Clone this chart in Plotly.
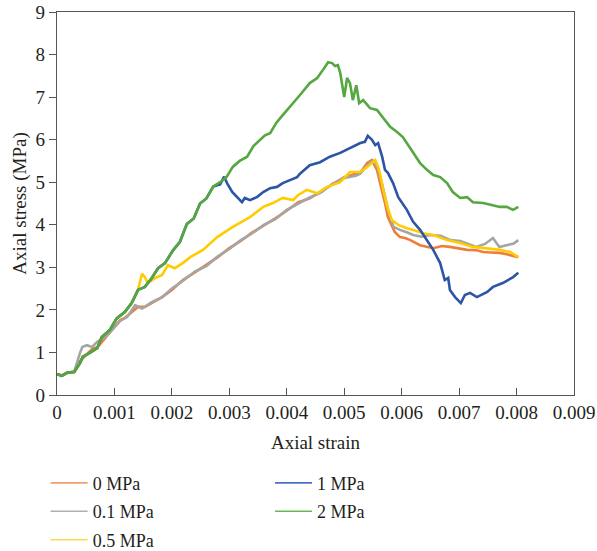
import plotly.graph_objects as go

# ---------------- data ----------------
x_0 = [0, 0.0001, 0.0002, 0.0003, 0.0004, 0.00054, 0.00061, 0.00071, 0.00084, 0.00096, 0.0011, 0.00118,
       0.0013, 0.00141, 0.00153, 0.00165, 0.00183, 0.002, 0.00219, 0.0024, 0.0026, 0.0028, 0.003, 0.0032,
       0.0034, 0.0036, 0.0038, 0.004, 0.0042, 0.0044, 0.0046, 0.0048, 0.005, 0.0052, 0.00528, 0.0054,
       0.00548, 0.00557, 0.00566, 0.00571, 0.00576, 0.00583, 0.00588, 0.00597, 0.00606, 0.00615, 0.00632,
       0.00655, 0.0067, 0.00684, 0.007, 0.00714, 0.0073, 0.00742, 0.00755, 0.00771, 0.00785, 0.00803]
y_0 = [0.49, 0.46, 0.53, 0.55, 0.8, 0.99, 1.08, 1.13, 1.34, 1.53, 1.76, 1.81,
       1.95, 2.07, 2.07, 2.16, 2.3, 2.47, 2.7, 2.88, 3.05, 3.24, 3.45, 3.62,
       3.82, 3.98, 4.15, 4.33, 4.53, 4.62, 4.78, 4.95, 5.12, 5.2, 5.22, 5.45,
       5.52, 5.29, 4.82, 4.51, 4.18, 3.99, 3.83, 3.71, 3.69, 3.64, 3.52,
       3.45, 3.5, 3.48, 3.44, 3.41, 3.4, 3.36, 3.35, 3.34, 3.3, 3.24]

x_01 = [0, 0.0001, 0.0002, 0.0003, 0.0004, 0.00044, 0.00052, 0.00061, 0.0007, 0.00084, 0.00096, 0.0011,
        0.00122, 0.00136, 0.00148, 0.00165, 0.00183, 0.002, 0.00219, 0.0024, 0.0026, 0.0028, 0.003, 0.0032,
        0.0034, 0.0036, 0.0038, 0.004, 0.0042, 0.0044, 0.0046, 0.0048, 0.005, 0.0052, 0.00528, 0.0054,
        0.0055, 0.00558, 0.00566, 0.00572, 0.00578, 0.00586, 0.00597, 0.0061, 0.0062, 0.00635, 0.0065,
        0.00668, 0.00685, 0.00702, 0.00718, 0.0073, 0.00745, 0.00759, 0.0077, 0.00783, 0.00795, 0.00803]
y_01 = [0.49, 0.46, 0.53, 0.55, 0.99, 1.13, 1.17, 1.13, 1.25, 1.36, 1.53, 1.74,
        1.83, 2.11, 2.03, 2.18, 2.3, 2.5, 2.68, 2.9, 3.03, 3.26, 3.43, 3.64,
        3.8, 4.0, 4.13, 4.35, 4.5, 4.64, 4.76, 4.97, 5.1, 5.15, 5.2, 5.4,
        5.5, 5.35, 4.95, 4.6, 4.25, 3.95, 3.88, 3.82, 3.76, 3.72, 3.76,
        3.74, 3.64, 3.62, 3.55, 3.48, 3.55, 3.69, 3.48, 3.52, 3.56, 3.64]

x_05 = [0, 0.00008, 0.00018, 0.0003, 0.0004, 0.00045, 0.00057, 0.0007, 0.00078, 0.00092, 0.00104,
        0.00118, 0.0013, 0.00141, 0.00148, 0.00153, 0.00158, 0.00171, 0.00183, 0.00193, 0.00205, 0.00219,
        0.00232, 0.00254, 0.00279, 0.00306, 0.00336, 0.00359, 0.00376, 0.00393, 0.00411, 0.0042, 0.00435,
        0.00453, 0.0047, 0.00493, 0.0051, 0.00528, 0.0054, 0.00548, 0.00554, 0.00559, 0.00562, 0.00568,
        0.00575, 0.00583, 0.00595, 0.00609, 0.0062, 0.00637, 0.00655, 0.00679, 0.00702, 0.00724, 0.00749,
        0.00771, 0.00789, 0.00803]
y_05 = [0.49, 0.45, 0.53, 0.54, 0.75, 0.9, 0.99, 1.1, 1.36, 1.53, 1.8,
        1.95, 2.16, 2.47, 2.85, 2.77, 2.63, 2.75, 2.82, 3.05, 2.98, 3.1,
        3.24, 3.41, 3.71, 3.95, 4.18, 4.42, 4.51, 4.63, 4.58, 4.7, 4.82,
        4.74, 4.89, 5.0, 5.24, 5.24, 5.36, 5.45, 5.52, 5.36, 5.22, 4.82,
        4.42, 4.11, 3.99, 3.92, 3.88, 3.8, 3.76, 3.64, 3.57, 3.48, 3.45,
        3.41, 3.36, 3.24]

x_1 = [0, 0.00008, 0.00018, 0.0003, 0.0004, 0.00045, 0.00057, 0.0007, 0.00078, 0.00092, 0.00104, 0.00118,
       0.0013, 0.00141, 0.00153, 0.00165, 0.00176, 0.00188, 0.00202, 0.00214, 0.00226, 0.00238, 0.00249,
       0.0026, 0.00272, 0.00284, 0.00291, 0.00296, 0.00305, 0.00313, 0.00322, 0.00327, 0.00336, 0.00348,
       0.00359, 0.00371, 0.00383, 0.00393, 0.00406, 0.00418, 0.00423, 0.0044, 0.00458, 0.00475, 0.00493,
       0.0051, 0.00528, 0.00536, 0.00541, 0.00548, 0.00554, 0.00559, 0.00566, 0.00571, 0.00576, 0.00585,
       0.00594, 0.00609, 0.0062, 0.00632, 0.00644, 0.00655, 0.00667, 0.00675, 0.00681, 0.00684, 0.00693,
       0.00703, 0.0071, 0.00719, 0.00731, 0.00749, 0.00759, 0.00776, 0.00794, 0.00803]
y_1 = [0.49, 0.45, 0.53, 0.54, 0.75, 0.9, 0.99, 1.1, 1.36, 1.53, 1.8, 1.95,
       2.16, 2.47, 2.54, 2.75, 2.98, 3.1, 3.4, 3.6, 4.02, 4.15, 4.5,
       4.62, 4.9, 4.95, 5.13, 4.98, 4.77, 4.65, 4.53, 4.63, 4.58, 4.65,
       4.77, 4.86, 4.89, 4.98, 5.05, 5.12, 5.2, 5.4, 5.47, 5.6, 5.69,
       5.8, 5.92, 5.95, 6.09, 6.0, 5.87, 5.92, 5.6, 5.29, 5.22, 4.98,
       4.65, 4.35, 4.07, 3.88, 3.64, 3.41, 3.1, 2.7, 2.75, 2.47, 2.3,
       2.16, 2.35, 2.4, 2.3, 2.42, 2.54, 2.63, 2.77, 2.87]

x_2 = [0, 0.00008, 0.00018, 0.0003, 0.0004, 0.00045, 0.00057, 0.0007, 0.00078, 0.00092, 0.00104, 0.00118,
       0.0013, 0.00141, 0.00153, 0.00165, 0.00176, 0.00188, 0.00202, 0.00214, 0.00226, 0.00238, 0.00249,
       0.0026, 0.00272, 0.00284, 0.00295, 0.00306, 0.00318, 0.00331, 0.00342, 0.00353, 0.00362, 0.00371,
       0.00382, 0.0039, 0.00406, 0.00423, 0.0044, 0.00453, 0.00463, 0.00472, 0.00479, 0.00484, 0.00489,
       0.00493, 0.005, 0.00505, 0.0051, 0.00515, 0.00521, 0.00526, 0.00533, 0.00538, 0.00545, 0.00557,
       0.00568, 0.0058, 0.00592, 0.00602, 0.00615, 0.00632, 0.00644, 0.00655, 0.00667, 0.00679, 0.00689,
       0.00702, 0.00714, 0.00724, 0.00742, 0.00759, 0.00771, 0.00783, 0.00794, 0.00803]
y_2 = [0.49, 0.45, 0.53, 0.54, 0.75, 0.9, 0.99, 1.1, 1.36, 1.53, 1.8, 1.95,
       2.16, 2.47, 2.54, 2.75, 2.98, 3.1, 3.4, 3.6, 4.02, 4.15, 4.5,
       4.62, 4.9, 5.0, 5.12, 5.36, 5.5, 5.6, 5.85, 6.0, 6.1, 6.15,
       6.4, 6.53, 6.77, 7.05, 7.33, 7.45, 7.64, 7.82, 7.8, 7.73, 7.75,
       7.57, 7.0, 7.45, 7.33, 6.93, 7.28, 6.86, 6.93, 6.86, 6.74, 6.7,
       6.51, 6.3, 6.18, 6.06, 5.8, 5.45, 5.29, 5.17, 5.12, 4.98, 4.77,
       4.63, 4.65, 4.53, 4.51, 4.46, 4.42, 4.42, 4.35, 4.42]

series_names = ["0 MPa", "0.1 MPa", "0.5 MPa", "1 MPa", "2 MPa"]
x_ticks = [0, 0.001, 0.002, 0.003, 0.004, 0.005, 0.006, 0.007, 0.008, 0.009]
x_tick_labels = ["0", "0.001", "0.002", "0.003", "0.004", "0.005", "0.006", "0.007", "0.008", "0.009"]
y_ticks = [0, 1, 2, 3, 4, 5, 6, 7, 8, 9]

# ---------------- styling ----------------
colors = ["#EE7D3A", "#A5A5A5", "#FFCC00", "#2D55A5", "#54A83F"]
legend_colors = ["#F0A070", "#B0B0B0", "#FFD84A", "#4A70C8", "#6CB858"]
FONT = "Liberation Serif"
TXT = "#231F20"

fig = go.Figure()
data = [(x_0, y_0), (x_01, y_01), (x_05, y_05), (x_1, y_1), (x_2, y_2)]
legends = ["legend", "legend", "legend", "legend2", "legend2"]
for i, ((xs, ys), name) in enumerate(zip(data, series_names)):
    fig.add_trace(go.Scatter(
        x=xs, y=ys, mode="lines", name=name, showlegend=False,
        line=dict(color=colors[i], width=2.6),
    ))
# legend-only entries (thin sample lines, as in the reference key)
for i, name in enumerate(series_names):
    fig.add_trace(go.Scatter(
        x=[None], y=[None], mode="lines", name=name,
        line=dict(color=legend_colors[i], width=1.6),
        legend=legends[i], legendgroup=name,
    ))

axis_common = dict(
    showline=True, linecolor="#555555", linewidth=1.3, mirror=True, automargin=False,
    showgrid=False, zeroline=False, ticklen=7, tickwidth=1.3, tickcolor="#555555",
    ticklabeloverflow="allow",
    tickfont=dict(family=FONT, size=19, color=TXT),
)
fig.update_xaxes(range=[0, 0.009], tickvals=x_ticks, ticktext=x_tick_labels, ticks="inside",
                 title=dict(text="Axial strain", font=dict(family=FONT, size=19, color=TXT), standoff=13),
                 **axis_common)
fig.update_yaxes(range=[0, 9], tickvals=y_ticks, ticks="outside",
                 title=dict(text="Axial stress (MPa)", font=dict(family=FONT, size=19, color=TXT), standoff=3),
                 **axis_common)

leg_common = dict(font=dict(family=FONT, size=18, color=TXT), bgcolor="rgba(0,0,0,0)",
                  traceorder="grouped", tracegroupgap=2, yanchor="top", xanchor="left",
                  itemwidth=37)
fig.update_layout(
    width=597, height=551,
    margin=dict(l=57, r=23, t=12, b=156, autoexpand=False),
    paper_bgcolor="white", plot_bgcolor="white",
    showlegend=True,
    legend=dict(x=-0.022, y=-0.182, **leg_common),
    legend2=dict(x=0.412, y=-0.182, **leg_common),
)

# remove the default 8px page margin so the figure fills the window exactly
fig.write_html("out.html", config={"displayModeBar": False},
               post_script="document.body.style.margin='0';")
